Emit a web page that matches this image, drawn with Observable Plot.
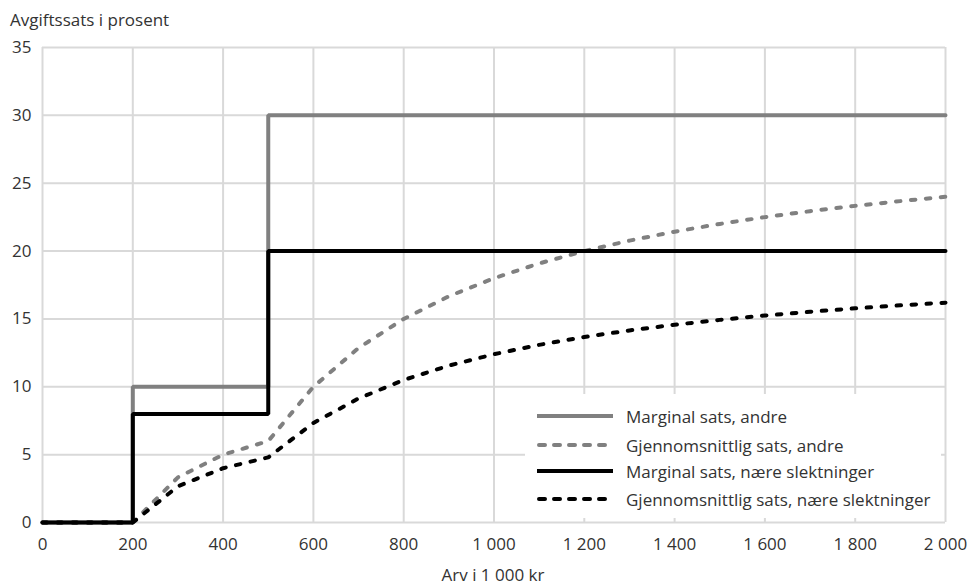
<!DOCTYPE html>
<html>
<head>
<meta charset="utf-8">
<script src="https://cdn.jsdelivr.net/npm/d3@7"></script>
<script src="https://cdn.jsdelivr.net/npm/@observablehq/plot@0.6"></script>
<style>
  html, body { margin: 0; padding: 0; background: #fff; }
  body { width: 969px; height: 586px; position: relative; overflow: hidden; font-family: "Open Sans", sans-serif; color: #333; }
  #chart { position: absolute; left: 0; top: 0; }
  .lbl { position: absolute; font-size: 17px; line-height: 20px; color: #333; white-space: nowrap; }
  #legend { position: absolute; left: 525px; top: 394px; width: 416px; height: 124px; background: #fff; }
  .row { position: absolute; left: 0; height: 28px; display: flex; align-items: center; font-size: 17px; color: #333; white-space: nowrap; }
  .row svg { margin-left: 12px; margin-right: 13px; }
</style>
</head>
<body>
<div id="chart"></div>
<div class="lbl" style="left:10px; top:10px;">Avgiftssats i prosent</div>
<div class="lbl" style="left:0; width:986px; text-align:center; top:565px;">Arv i 1 000 kr</div>
<div id="legend"></div>
<script>
// Arv (1 000 kr)
const stepX = [0, 200, 500, 2000];
const marginalAndre = [0, 10, 30, 30];
const marginalNaere = [0, 8, 20, 20];

const avgX = [0, 100, 200, 300, 400, 500, 600, 700, 800, 900, 1000, 1100, 1200, 1300, 1400, 1500, 1600, 1700, 1800, 1900, 2000];
const avgAndre = [0, 0, 0, 3.33, 5.0, 6.0, 10.0, 12.86, 15.0, 16.67, 18.0, 19.09, 20.0, 20.77, 21.43, 22.0, 22.5, 22.94, 23.33, 23.68, 24.0];
const avgNaere = [0, 0, 0, 2.67, 4.0, 4.8, 7.33, 9.14, 10.5, 11.56, 12.4, 13.09, 13.67, 14.15, 14.57, 14.93, 15.25, 15.53, 15.78, 16.0, 16.2];

const xTicks = [0, 200, 400, 600, 800, 1000, 1200, 1400, 1600, 1800, 2000];
const yTicks = [0, 5, 10, 15, 20, 25, 30, 35];

const seriesNames = ["Marginal sats, andre", "Gjennomsnittlig sats, andre", "Marginal sats, nære slektninger", "Gjennomsnittlig sats, nære slektninger"];
const seriesColors = ["#808080", "#808080", "#000000", "#000000"];
const seriesDashed = [false, true, false, true];

const stepData = (ys) => stepX.map((x, i) => ({x, y: ys[i]}));
const avgData = (ys) => avgX.map((x, i) => ({x, y: ys[i]}));

const fmt = d => d3.format(",")(d).replace(/,/g, "\u00a0");
const DASH = "4.5,10.5";

const plot = Plot.plot({
  width: 969,
  height: 586,
  marginLeft: 42,
  marginRight: 24,
  marginTop: 47,
  marginBottom: 64,
  style: { fontFamily: "Open Sans, sans-serif", fontSize: "17px", color: "#333", background: "#fff" },
  x: { domain: [0, 2000], label: null },
  y: { domain: [0, 35], label: null },
  marks: [
    Plot.gridX(xTicks, { stroke: "#d9d9d9", strokeOpacity: 1, strokeWidth: 2 }),
    Plot.gridY(yTicks, { stroke: "#d9d9d9", strokeOpacity: 1, strokeWidth: 2 }),
    Plot.line(stepData(marginalAndre), { x: "x", y: "y", curve: "step-after", stroke: seriesColors[0], strokeWidth: 4, strokeLinejoin: "miter" }),
    Plot.line(avgData(avgAndre), { x: "x", y: "y", stroke: seriesColors[1], strokeWidth: 4, strokeDasharray: DASH, strokeLinecap: "round" }),
    Plot.line(stepData(marginalNaere), { x: "x", y: "y", curve: "step-after", stroke: seriesColors[2], strokeWidth: 4, strokeLinejoin: "miter" }),
    Plot.line(avgData(avgNaere), { x: "x", y: "y", stroke: seriesColors[3], strokeWidth: 4, strokeDasharray: DASH, strokeLinecap: "round" }),
    Plot.axisX({ ticks: xTicks, tickFormat: fmt, tickSize: 0, tickPadding: 15, label: null, fontSize: 17 }),
    Plot.axisY({ ticks: yTicks, tickSize: 0, tickPadding: 11, label: null, fontSize: 17 })
  ]
});
document.getElementById("chart").appendChild(plot);

const legend = document.getElementById("legend");
const rowTops = [8, 37, 63, 91];
seriesNames.forEach((name, i) => {
  const row = document.createElement("div");
  row.className = "row";
  row.style.top = rowTops[i] + "px";
  const dash = seriesDashed[i] ? `stroke-dasharray="6,9" stroke-linecap="round"` : `stroke-linecap="butt"`;
  row.innerHTML = `<svg width="76" height="10"><line x1="${seriesDashed[i] ? 2 : 0}" y1="5" x2="76" y2="5" stroke="${seriesColors[i]}" stroke-width="4" ${dash}/></svg><span>${name}</span>`;
  legend.appendChild(row);
});
</script>
</body>
</html>
